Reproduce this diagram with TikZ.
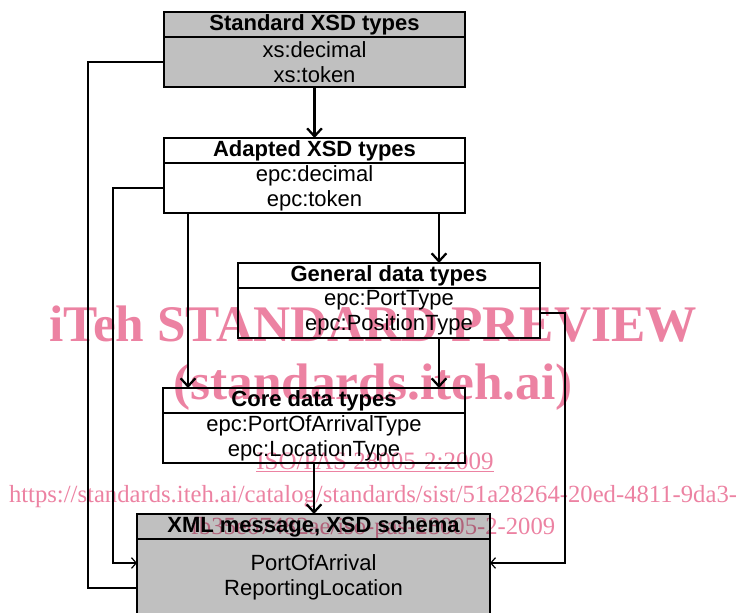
\documentclass[tikz,border=0pt]{standalone}
\usepackage{fontspec}
\setmainfont{Liberation Sans}
\newfontfamily\wmfont{Liberation Serif}
\usetikzlibrary{arrows.meta,%
                positioning}
\definecolor{boxgray}{RGB}{192,192,192}
\definecolor{wmpink}{RGB}{236,130,162}

\begin{document}
\begin{tikzpicture}[x=0.75pt,y=-0.75pt]
		\tikzstyle{TitleBox}=[draw,line width=0.9pt,inner sep=0pt,outer sep=0pt,minimum height=18.75pt,font=\fontsize{16.5}{18.75}\selectfont\bfseries]
		\tikzstyle{BodyBox}=[draw,line width=0.9pt,inner sep=0pt,outer sep=0pt,minimum height=37.5pt,align=center,font=\fontsize{16.5}{18.75}\selectfont]
		\tikzstyle{MainArrow}=[line width=1.7pt,-{Straight Barb[length=6pt,width=11pt]}]
		\tikzstyle{SideLine}=[line width=0.9pt]
		\tikzstyle{SideArrow}=[line width=0.9pt,-{Straight Barb[length=3.5pt,width=8pt]}]
		\tikzstyle{Watermark}=[text=wmpink,inner sep=0pt,anchor=base]

		\useasboundingbox (0,0) rectangle (736,613);
		\clip (0,0) rectangle (736,613);

		% type layers
		\node[TitleBox,fill=boxgray,minimum width=225.75pt,anchor=north] (std) at (314.5,12) {Standard XSD types};
		\node[BodyBox,fill=boxgray,minimum width=225.75pt,below=0pt of std] (stdbody) {xs:decimal\\xs:token};

		\node[TitleBox,minimum width=225.75pt,anchor=north] (adapted) at (314.5,138) {Adapted XSD types};
		\node[BodyBox,minimum width=225.75pt,below=0pt of adapted] (adbody) {epc:decimal\\epc:token};

		\node[TitleBox,minimum width=226.5pt,anchor=north] (gen) at (389,263) {General data types};
		\node[BodyBox,minimum width=226.5pt,below=0pt of gen] (genbody) {epc:PortType\\epc:PositionType};

		\node[TitleBox,minimum width=226.5pt,anchor=north] (core) at (314,388) {Core data types};
		\node[BodyBox,minimum width=226.5pt,below=0pt of core] (corebody) {epc:PortOfArrivalType\\epc:LocationType};

		% message
		\node[TitleBox,fill=boxgray,minimum width=264.75pt,anchor=north] (xml) at (313.5,514) {XML message, XSD schema};
		\node[BodyBox,fill=boxgray,minimum width=264.75pt,minimum height=57pt,below=0pt of xml] (xmlbody) {PortOfArrival\\ReportingLocation};

		% derivations
		\draw[MainArrow] (stdbody.south) -- (adapted.north);
		\draw[MainArrow] ([xshift=18.75pt]core.north west |- adbody.south) -- ([xshift=18.75pt]core.north west);
		\draw[MainArrow] ([xshift=37.5pt]gen.north |- adbody.south) -- ([xshift=37.5pt]gen.north);
		\draw[MainArrow] ([xshift=37.5pt]genbody.south) -- ([xshift=37.5pt]genbody.south |- core.north);
		\draw[MainArrow] (corebody.south) -- (corebody.south |- xml.north);

		% uses
		\draw[SideLine] (stdbody.west) -- ++(-76,0) |- ([yshift=-8.25pt]xmlbody.west);
		\draw[SideArrow] (adbody.west) -- ++(-51,0) |- ([yshift=10.5pt]xmlbody.west);
		\draw[SideArrow] (genbody.east) -- ++(25,0) |- ([yshift=10.5pt]xmlbody.east);

		% watermark
		\begin{scope}[blend mode=multiply]
			\node[Watermark,font=\wmfont\fontsize{38.5}{40}\selectfont\bfseries] (wmtitle) at (373,341) {iTeh STANDARD PREVIEW};
			\node[Watermark,font=\wmfont\fontsize{38.5}{40}\selectfont\bfseries] (wmsite) at (373,399) {(standards.iteh.ai)};
			\node[Watermark,font=\wmfont\fontsize{18.75}{20}\selectfont] (wmdoc) at (375,469) {\underline{ISO/PAS 28005-2:2009}};
			\node[Watermark,font=\wmfont\fontsize{18.5}{20}\selectfont] (wmurl) at (373,502) {https://standards.iteh.ai/catalog/standards/sist/51a28264-20ed-4811-9da3-};
			\node[Watermark,font=\wmfont\fontsize{18.5}{20}\selectfont] (wmurltail) at (373,534) {fb35e67482ae/iso-pas-28005-2-2009};
		\end{scope}
\end{tikzpicture}
\end{document}
